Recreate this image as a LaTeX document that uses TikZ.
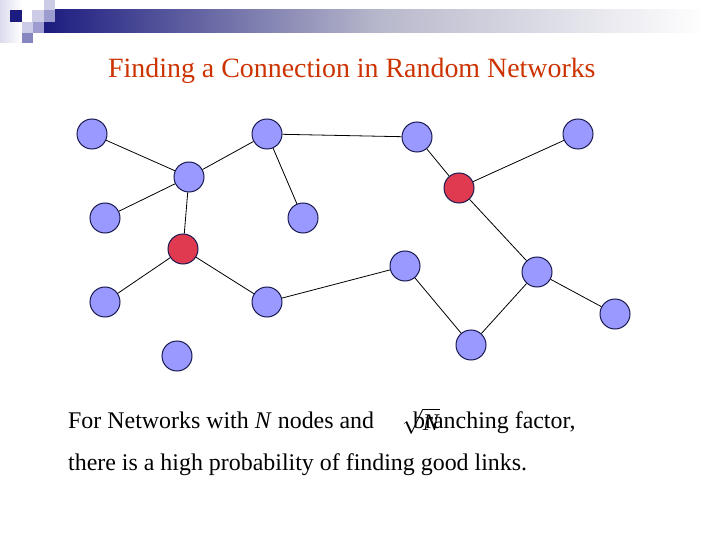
\documentclass[tikz,border=0pt]{standalone}
\usepackage{fontspec}
\setmainfont{Liberation Serif}
\definecolor{navy}{HTML}{1C1C80}
\definecolor{midbar}{HTML}{B8B8CC}
\definecolor{palelav}{HTML}{CCCCE6}
\definecolor{medlav}{HTML}{9C9CD0}
\definecolor{deeplav}{HTML}{8686C0}
\definecolor{nodeblue}{HTML}{9999FF}
\definecolor{nodered}{HTML}{E03A50}
\definecolor{nodeline}{HTML}{1A1A50}
\definecolor{titlecol}{HTML}{CC3300}
\tikzset{
  netnode/.style={circle, minimum size=30bp, inner sep=0pt, draw=nodeline, line width=1bp, fill=nodeblue},
  hotnode/.style={netnode, fill=nodered},
  link/.style={line width=0.8bp, black},
  bodytext/.style={font=\fontsize{24}{28}\selectfont, anchor=base west, inner sep=0pt},
}
\begin{document}
\begin{tikzpicture}[x=1bp, y=-1bp]
\useasboundingbox (0,0) rectangle (720,540);
% decoration
\shade[left color=palelav!70, right color=white] (0,0) rectangle (22,43);
\shade[left color=navy, right color=midbar] (44,10) rectangle (380,33);
\shade[left color=midbar, right color=white] (380,10) rectangle (705,33);
\fill[navy] (10,10) rectangle (22,22);
\fill[palelav] (32,10) rectangle (44,22);
\fill[palelav] (44,0) rectangle (55,10);
\fill[medlav] (44,10) rectangle (55,22);
\fill[palelav] (22,22) rectangle (33,33);
\fill[medlav] (33,22) rectangle (44,33);
\fill[deeplav] (22,33) rectangle (33,43);
% title
\node[font=\fontsize{28}{32}\selectfont, text=titlecol, anchor=base west, inner sep=0pt] (title) at (108,78) {Finding a Connection in Random Networks};
% nodes
\node[netnode] (A) at (92,134) {};
\node[netnode] (B) at (189,177) {};
\node[netnode] (C) at (105,218) {};
\node[hotnode] (D) at (183,249) {};
\node[netnode] (E) at (105,302) {};
\node[netnode] (F) at (177,356) {};
\node[netnode] (G) at (267,134) {};
\node[netnode] (H) at (303,218) {};
\node[netnode] (I) at (267,302) {};
\node[netnode] (J) at (417,137) {};
\node[hotnode] (K) at (459,188) {};
\node[netnode] (L) at (578,134) {};
\node[netnode] (M) at (405,266) {};
\node[netnode] (N) at (537,272) {};
\node[netnode] (O) at (471,345) {};
\node[netnode] (P) at (615,314) {};
% links
\draw[link] (A) -- (B);
\draw[link] (C) -- (B);
\draw[link] (B) -- (G);
\draw[link] (B) -- (D);
\draw[link] (D) -- (E);
\draw[link] (D) -- (I);
\draw[link] (G) -- (H);
\draw[link] (G) -- (J);
\draw[link] (J) -- (K);
\draw[link] (K) -- (L);
\draw[link] (K) -- (N);
\draw[link] (I) -- (M);
\draw[link] (M) -- (O);
\draw[link] (O) -- (N);
\draw[link] (N) -- (P);
% text
\node[bodytext] (t1) at (68,428) {For Networks with \textit{N} nodes and};
\node[bodytext] (t2) at (413,428) {branching factor,};
\node[bodytext] (t3) at (68,470) {there is a high probability of finding good links.};
\node[font=\fontsize{24}{28}\selectfont, anchor=base west, inner sep=0pt] (sq) at (402,430) {$\sqrt{\hbox{\textit{N}}}$};
\end{tikzpicture}
\end{document}
